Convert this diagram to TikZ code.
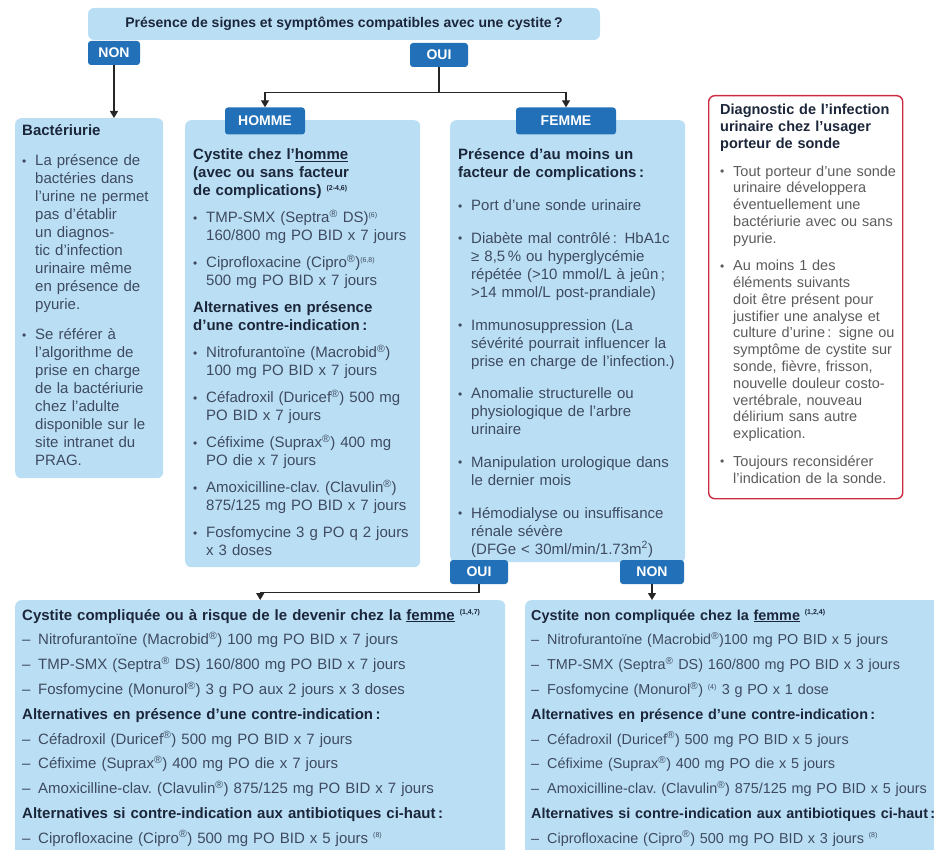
\documentclass[tikz,border=0pt]{standalone}
\usepackage{fontspec}
\setmainfont{Liberation Sans}
\usepackage{xcolor}
\usetikzlibrary{positioning}
\usetikzlibrary{arrows.meta}
\definecolor{boxblue}{RGB}{186,223,244}
\definecolor{tagblue}{RGB}{33,112,184}
\definecolor{headtext}{RGB}{28,38,58}
\definecolor{bodytext}{RGB}{62,74,96}
\definecolor{alertred}{RGB}{204,44,64}
\definecolor{greytext}{RGB}{92,92,92}
% small marks used in the texts
\newcommand{\reg}{\textsuperscript{®}}
\newcommand{\refs}[1]{\textsuperscript{\fontsize{7}{7}\selectfont(#1)}}
\newcommand{\sep}[1]{\setlength{\parskip}{#1}}
\newcommand{\hd}[1]{\textcolor{headtext}{\bfseries #1}}
\newcommand{\bul}{\par\hangindent=13pt\hangafter=1\makebox[13pt][l]{\raisebox{0.5pt}{\fontsize{12}{12}\selectfont\textbullet}}}
\newcommand{\dsh}{\par\hangindent=16pt\hangafter=1\makebox[16pt][l]{–}}
\tikzset {
  % light blue boxes
  panel/.style = {fill=boxblue, rounded corners=6pt, anchor=north west, inner sep=0pt},
  % red framed note
  alertbox/.style = {draw=alertred, line width=1.4pt, fill=white, rounded corners=6pt, anchor=north west, inner sep=0pt},
  qbox/.style = {fill=boxblue, rounded corners=6pt, text=headtext, font=\fontsize{14}{16}\selectfont\bfseries},
  % dark blue answers
  tag/.style = {fill=tagblue, rounded corners=3pt, text=white, font=\fontsize{14}{16}\selectfont\bfseries, minimum height=24pt, inner sep=0pt},
  txt/.style = {anchor=base west, align=left, inner sep=0pt, text=bodytext, font=\fontsize{15}{18}\selectfont},
  smalltxt/.style = {txt, text=greytext, font=\fontsize{14.5}{16.8}\selectfont},
  link/.style = {draw=black!85, line width=1.3pt},
  arr/.style = {link, -{Triangle[length=7pt,width=8pt]}},
}
\begin{document}
\begin{tikzpicture}[x=1pt,y=1pt]
  \useasboundingbox (0,0) rectangle (934,-850);
  \clip (0,0) rectangle (934,-850);

  % question
  \node[qbox, minimum width=512pt, minimum height=32pt] (q) at (344,-24) {Présence de signes et symptômes compatibles avec une cystite\,?};
  \node[tag, minimum width=52pt] (qnon) at (114,-53) {NON};
  \node[tag, minimum width=58pt] (qoui) at (439,-55) {OUI};

  % boxes
  \node[panel, minimum width=148pt, minimum height=360pt] (bact) at (15,-118) {};
  \node[panel, minimum width=235pt, minimum height=447pt] (homme) at (185,-120) {};
  \node[panel, minimum width=235pt, minimum height=442pt] (femme) at (450,-120) {};
  \node[alertbox, minimum width=194pt, minimum height=403pt] (sonde) at (708,-95) {};
  \node[panel, minimum width=490pt, minimum height=270pt] (compl) at (15,-600) {};
  \node[panel, minimum width=430pt, minimum height=270pt] (noncompl) at (525,-600) {};

  \node[tag, minimum width=80pt, minimum height=27pt] (htag) at (265,-121) {HOMME};
  \node[tag, minimum width=100pt, minimum height=27pt] (ftag) at (566,-121) {FEMME};
  \node[tag, minimum width=58pt] (foui) at (479,-572) {OUI};
  \node[tag, minimum width=64pt] (fnon) at (652,-572) {NON};

  % texts
  \node[txt, text width=140pt] (bacttxt) at (22,-136) {\sep{12pt}\hd{Bactériurie}
    \bul La présence de\newline bactéries dans\newline l'urine ne permet\newline pas d'établir\newline un diagnos-\newline tic d'infection\newline urinaire même\newline en présence de\newline pyurie.
    \bul Se référer à\newline l'algorithme de\newline prise en charge\newline de la bactériurie\newline chez l'adulte\newline disponible sur le\newline site intranet du\newline PRAG.\par};

  \node[txt, text width=224pt] (hommetxt) at (193,-160) {\sep{9pt}\hd{Cystite chez l'\underline{homme}\newline (avec ou sans facteur\newline de complications) \refs{2-4,6}}
    \bul TMP-SMX (Septra\reg{} DS)\refs{6}\newline 160/800 mg PO BID x 7 jours
    \bul Ciprofloxacine (Cipro\reg)\refs{6,8}\newline 500 mg PO BID x 7 jours
    \par\hd{Alternatives en présence\newline d'une contre-indication\,:}
    \bul Nitrofurantoïne (Macrobid\reg)\newline 100 mg PO BID x 7 jours
    \bul Céfadroxil (Duricef\reg) 500 mg\newline PO BID x 7 jours
    \bul Céfixime (Suprax\reg) 400 mg\newline PO die x 7 jours
    \bul Amoxicilline-clav.\ (Clavulin\reg)\newline 875/125 mg PO BID x 7 jours
    \bul Fosfomycine 3 g PO q 2 jours\newline x 3 doses\par};

  \node[txt, text width=224pt] (femmetxt) at (458,-160) {\sep{14.7pt}\hd{Présence d'au moins un\newline facteur de complications\,:}
    \bul Port d'une sonde urinaire
    \bul Diabète mal contrôlé\,: HbA1c\newline ≥ 8,5\,\% ou hyperglycémie\newline répétée (>10 mmol/L à jeûn\,;\newline >14 mmol/L post-prandiale)
    \bul Immunosuppression (La\newline sévérité pourrait influencer la\newline prise en charge de l'infection.)
    \bul Anomalie structurelle ou\newline physiologique de l'arbre\newline urinaire
    \bul Manipulation urologique dans\newline le dernier mois
    \bul Hémodialyse ou insuffisance\newline rénale sévère\newline (DFGe < 30ml/min/1.73m\textsuperscript{2})\par};

  \node[smalltxt, text width=180pt] (sondetxt) at (720,-115) {\sep{10.7pt}\hd{Diagnostic de l'infection\newline urinaire chez l'usager\newline porteur de sonde}
    \bul Tout porteur d'une sonde\newline urinaire développera\newline éventuellement une\newline bactériurie avec ou sans\newline pyurie.
    \bul Au moins 1 des\newline éléments suivants\newline doit être présent pour\newline justifier une analyse et\newline culture d'urine\,: signe ou\newline symptôme de cystite sur\newline sonde, fièvre, frisson,\newline nouvelle douleur costo-\newline vertébrale, nouveau\newline délirium sans autre\newline explication.
    \bul Toujours reconsidérer\newline l'indication de la sonde.\par};

  \node[txt, text width=480pt] (compltxt) at (22,-620) {\sep{6.8pt}\hd{Cystite compliquée ou à risque de le devenir chez la \underline{femme} \refs{1,4,7}}
    \dsh Nitrofurantoïne (Macrobid\reg) 100 mg PO BID x 7 jours
    \dsh TMP-SMX (Septra\reg{} DS) 160/800 mg PO BID x 7 jours
    \dsh Fosfomycine (Monurol\reg) 3 g PO aux 2 jours x 3 doses
    \par\hd{Alternatives en présence d'une contre-indication\,:}
    \dsh Céfadroxil (Duricef\reg) 500 mg PO BID x 7 jours
    \dsh Céfixime (Suprax\reg) 400 mg PO die x 7 jours
    \dsh Amoxicilline-clav.\ (Clavulin\reg) 875/125 mg PO BID x 7 jours
    \par\hd{Alternatives si contre-indication aux antibiotiques ci-haut\,:}
    \dsh Ciprofloxacine (Cipro\reg) 500 mg PO BID x 5 jours \refs{8}\par};

  \node[txt, text width=460pt, font=\fontsize{14.4}{18}\selectfont] (noncompltxt) at (531,-620) {\sep{6.8pt}\hd{Cystite non compliquée chez la \underline{femme} \refs{1,2,4}}
    \dsh Nitrofurantoïne (Macrobid\reg)100 mg PO BID x 5 jours
    \dsh TMP-SMX (Septra\reg{} DS) 160/800 mg PO BID x 3 jours
    \dsh Fosfomycine (Monurol\reg) \refs{4} 3 g PO x 1 dose
    \par\hd{Alternatives en présence d'une contre-indication\,:}
    \dsh Céfadroxil (Duricef\reg) 500 mg PO BID x 5 jours
    \dsh Céfixime (Suprax\reg) 400 mg PO die x 5 jours
    \dsh Amoxicilline-clav.\ (Clavulin\reg) 875/125 mg PO BID x 5 jours
    \par\hd{Alternatives si contre-indication aux antibiotiques ci-haut\,:}
    \dsh Ciprofloxacine (Cipro\reg) 500 mg PO BID x 3 jours \refs{8}\par};

  % connectors
  \draw[arr] (qnon) -- (qnon |- bact.north);
  \path (qoui.south) ++(0,-25) coordinate (split);
  \draw[link] (qoui) -- (split);
  \draw[arr] (split) -| (htag);
  \draw[arr] (split) -| (ftag);
  \path (foui.south) ++(0,-8) coordinate (turn);
  \draw[arr] (foui) -- (turn) -| (compl);
  \draw[arr] (fnon) -- (fnon |- noncompl.north);
\end{tikzpicture}
\end{document}
